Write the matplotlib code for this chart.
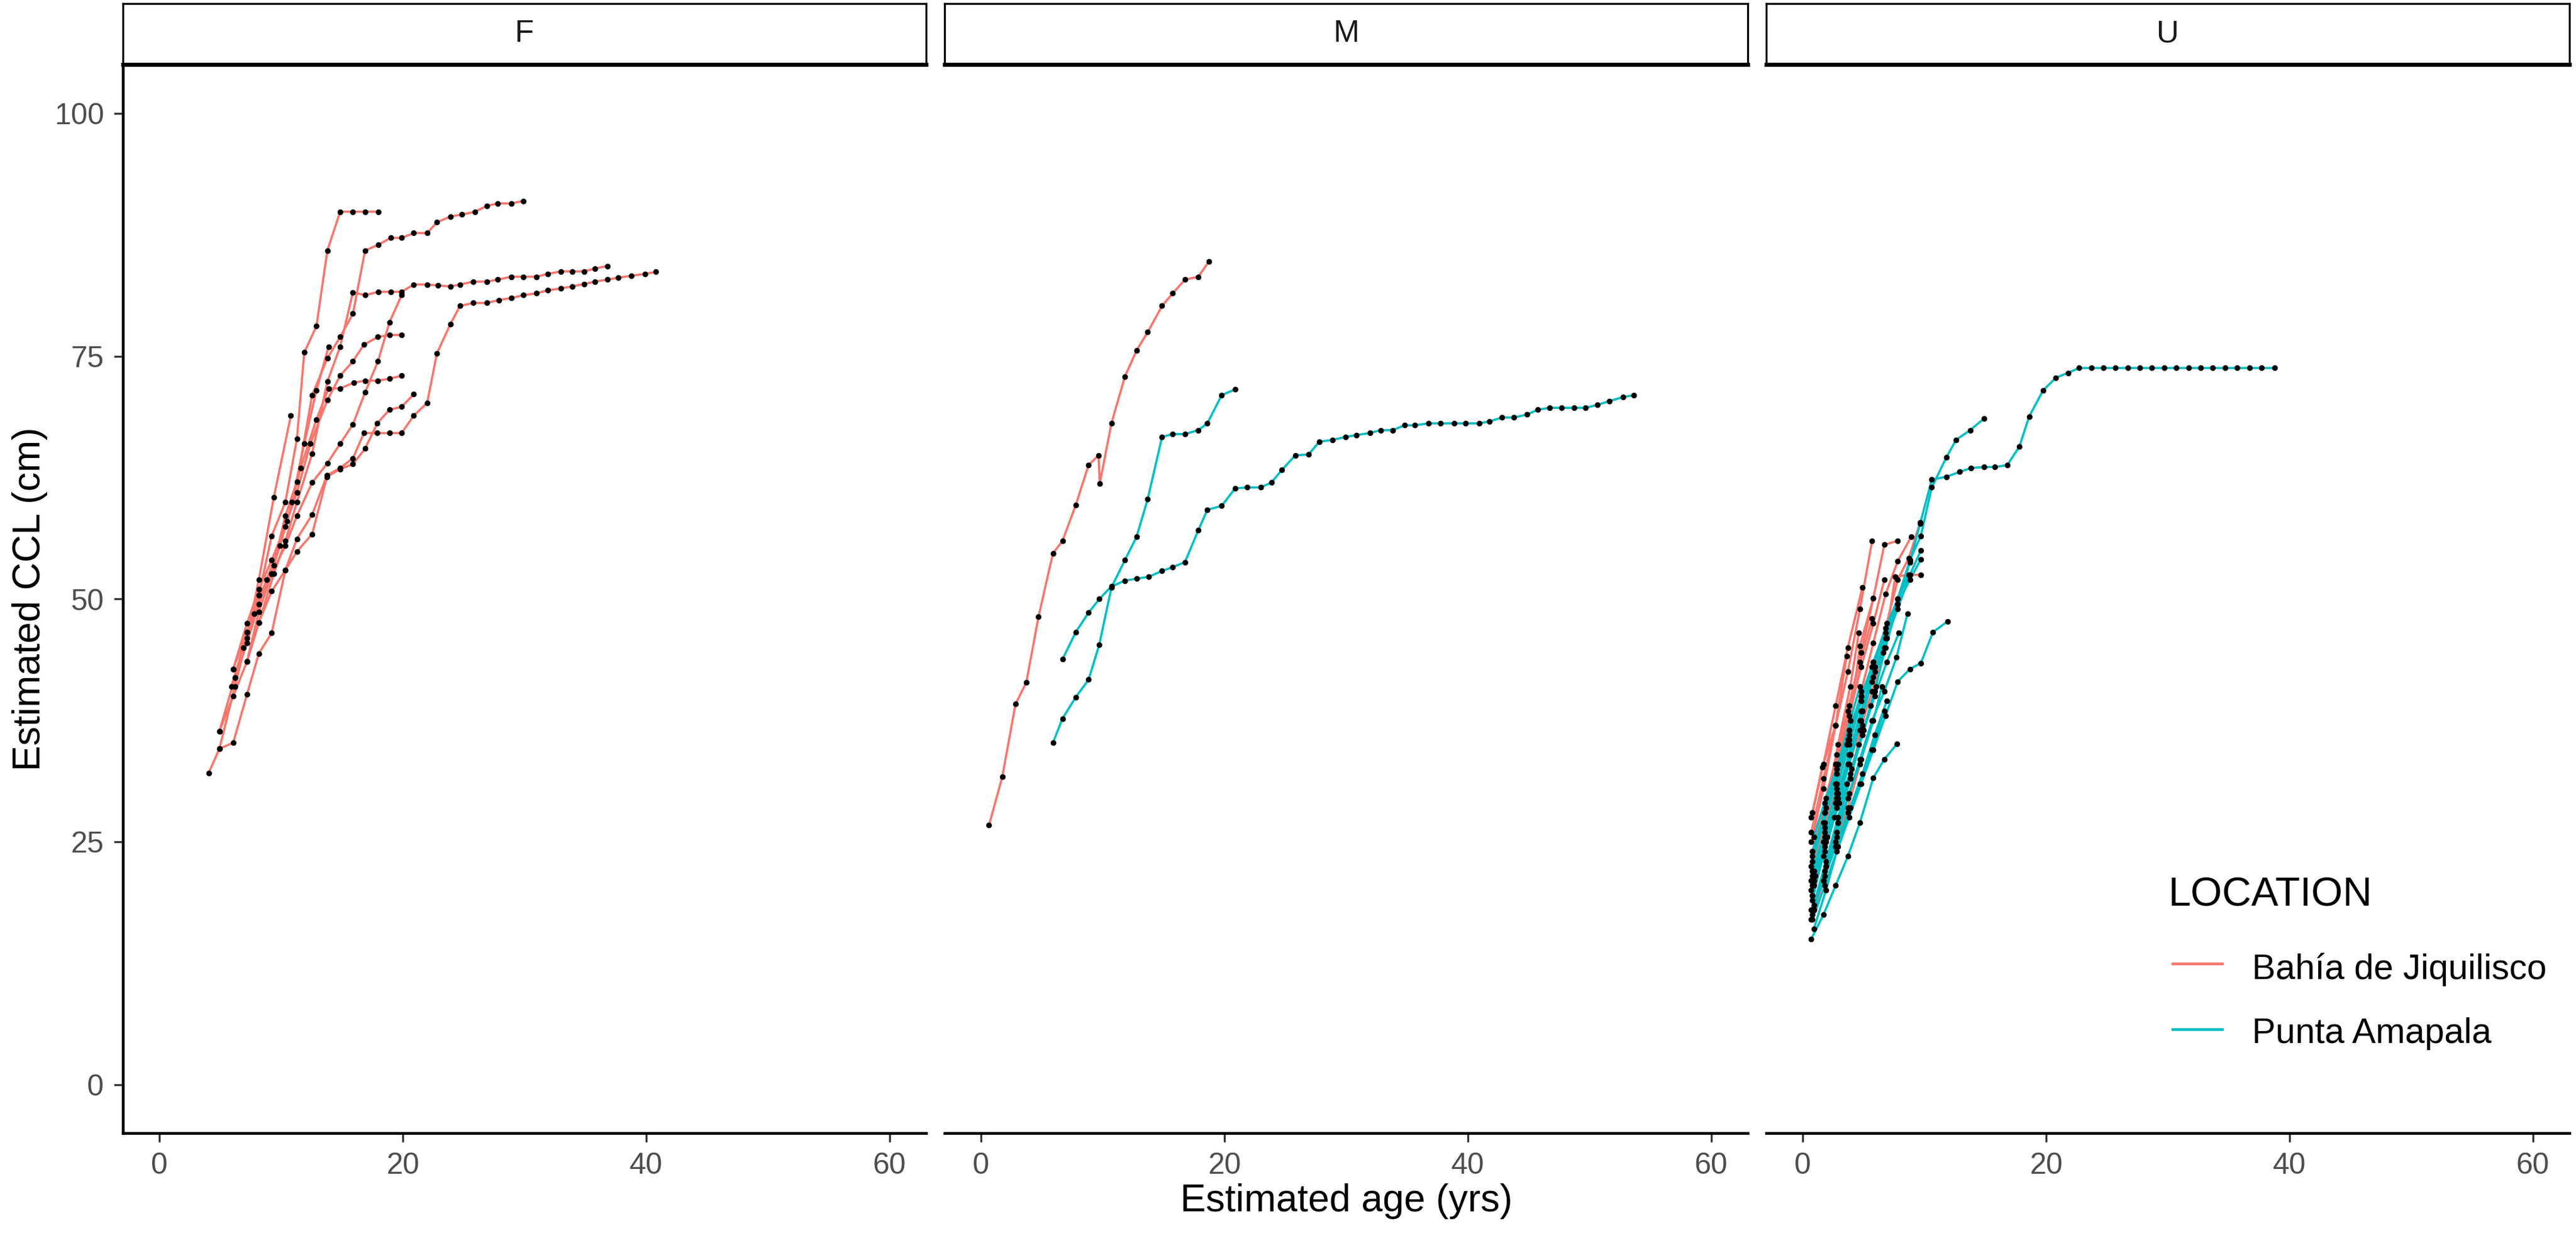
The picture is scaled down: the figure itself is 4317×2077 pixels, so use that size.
import matplotlib
matplotlib.use("Agg")
import matplotlib.pyplot as plt
from matplotlib.lines import Line2D

plt.rcParams['font.family'] = ['Liberation Sans', 'DejaVu Sans']

# ---------------- data ----------------
panels = ["F", "M", "U"]
locations = ["Bahía de Jiquilisco", "Punta Amapala"]
loc_colors = ["#F8766D", "#00BFC4"]
x_ticks = [0, 20, 40, 60]
y_ticks = [0, 25, 50, 75, 100]
x_label = "Estimated age (yrs)"
y_label = "Estimated CCL (cm)"
legend_title = "LOCATION"

# Panel F, Bahía de Jiquilisco (one list per turtle)
F_BJ_age = [
    [6.06, 7.2, 8.17, 9.22, 10.35, 11.3, 11.9, 12.9, 13.8, 14.85, 15.9, 16.9, 18.0],
    [6.2, 7.2, 8.17, 9.22, 10.35, 11.3, 12.55, 13.8, 14.85, 15.9, 16.9, 18.0, 19.0, 19.9, 20.9, 22.0, 22.8, 23.9, 24.85, 25.95, 26.9, 27.8, 28.9, 29.9],
    [4.93, 6.06, 7.2, 8.17, 9.4, 10.35, 11.3, 12.55, 13.8, 14.85, 15.9, 16.9, 18.0, 19.0, 19.9, 20.9, 22.0, 22.9, 23.9, 24.7, 25.8, 26.9, 27.8, 28.9, 29.9, 31.0, 31.9, 33.0, 33.9, 34.9, 35.8, 36.8],
    [4.05, 4.93, 6.06, 7.2, 8.17, 9.22, 10.35, 11.3, 12.55, 13.77, 14.85, 15.9, 16.8, 17.9, 18.9, 19.9, 20.9, 22.0, 22.8, 23.9, 24.7, 25.8, 26.9, 27.9, 28.9, 29.9, 31.0, 31.9, 33.0, 33.9, 34.9, 35.8, 36.8, 37.7, 38.8, 39.9, 40.8],
    [6.06, 7.2, 8.17, 9.22, 10.35, 11.3, 12.4, 13.8, 14.85, 15.9, 16.8, 17.96, 18.9, 19.9],
    [4.93, 6.2, 7.2, 8.17, 9.4, 10.5, 11.6, 12.9, 13.9, 14.85, 16.0, 16.9, 17.96, 18.9, 19.9],
    [7.2, 8.17, 9.22, 10.35, 11.3, 12.55, 13.77, 14.85, 15.9, 16.9, 17.9, 18.9, 19.9, 20.9],
    [4.93, 6.2, 7.2, 8.17, 9.4, 10.8],
    [7.2, 8.17, 9.22, 10.35, 11.3, 12.55, 13.8, 14.85, 15.9, 16.9, 17.96, 18.9, 19.9],
    [5.9, 6.9, 7.8, 8.8, 9.9, 10.9, 11.9, 12.9, 13.9],
]
F_BJ_ccl = [
    [42.8, 46.6, 50.4, 56.5, 60.0, 66.5, 75.4, 78.1, 85.9, 89.9, 89.9, 89.9, 89.9],
    [41.9, 46.6, 50.4, 52.6, 58.6, 62.1, 71.0, 74.8, 77.0, 79.4, 85.9, 86.5, 87.2, 87.2, 87.7, 87.7, 88.8, 89.4, 89.6, 89.9, 90.5, 90.75, 90.75, 91.0],
    [36.4, 40.0, 43.6, 47.6, 52.6, 56.0, 60.0, 65.0, 72.4, 76.0, 81.6, 81.3, 81.65, 81.65, 81.65, 82.4, 82.4, 82.3, 82.2, 82.4, 82.7, 82.7, 82.9, 83.2, 83.2, 83.2, 83.5, 83.75, 83.75, 83.75, 84.05, 84.3],
    [32.1, 34.6, 35.2, 40.2, 44.4, 46.5, 53.0, 56.2, 58.7, 62.75, 63.5, 64.5, 67.1, 67.1, 67.1, 67.1, 68.9, 70.2, 75.3, 78.3, 80.2, 80.5, 80.5, 80.8, 81.0, 81.3, 81.5, 81.8, 82.0, 82.2, 82.45, 82.7, 82.9, 83.1, 83.3, 83.5, 83.7],
    [42.8, 47.5, 51.0, 54.0, 57.5, 61.0, 66.0, 70.5, 73.0, 74.5, 76.2, 77.0, 77.2, 77.2],
    [36.4, 41.9, 45.5, 49.5, 53.5, 58.0, 63.5, 68.5, 71.7, 71.7, 72.3, 72.5, 72.5, 72.7, 73.0],
    [43.6, 47.6, 50.8, 53.0, 54.9, 56.7, 62.6, 63.4, 63.9, 65.5, 68.1, 69.5, 69.8, 71.1],
    [34.6, 41.0, 46.0, 52.0, 60.5, 68.9],
    [43.6, 48.7, 52.6, 55.5, 58.6, 62.0, 64.0, 66.0, 68.0, 71.3, 74.5, 78.5, 81.3],
    [41.0, 45.0, 48.5, 52.0, 55.5, 60.0, 66.0, 71.5, 76.0],
]
F_PA_age = []
F_PA_ccl = []

# Panel M
M_BJ_age = [
    [0.65, 1.74, 2.83, 3.71, 4.72, 5.90, 6.69, 7.78, 8.83, 9.65, 9.75, 10.71, 11.81, 12.77, 13.69, 14.87, 15.75, 16.75, 17.85, 18.73],
]
M_BJ_ccl = [
    [26.7, 31.7, 39.2, 41.4, 48.2, 54.7, 56.0, 59.7, 63.8, 64.8, 61.9, 68.1, 72.9, 75.6, 77.5, 80.2, 81.5, 82.9, 83.2, 84.8],
]
M_PA_age = [
    [6.69, 7.78, 8.83, 9.71, 10.71, 11.81, 12.77, 13.78, 14.87, 15.75, 16.75, 17.85, 18.59, 19.77, 20.87, 21.88, 22.97, 23.85, 24.72, 25.81, 26.91, 27.79, 28.88, 29.97, 30.85, 31.94, 32.82, 33.83, 34.79, 35.66, 36.76, 37.76, 38.86, 39.82, 40.92, 41.79, 42.80, 43.76, 44.86, 45.73, 46.70, 47.70, 48.71, 49.67, 50.64, 51.64, 52.74, 53.61],
    [5.90, 6.69, 7.78, 8.83, 9.71, 10.71, 11.81, 12.77, 13.69, 14.87, 15.75, 16.75, 17.85, 18.59, 19.77, 20.87],
]
M_PA_ccl = [
    [43.8, 46.6, 48.6, 50.0, 51.3, 51.9, 52.1, 52.3, 52.9, 53.3, 53.8, 57.1, 59.2, 59.6, 61.4, 61.5, 61.5, 62.0, 63.3, 64.8, 64.9, 66.2, 66.4, 66.7, 66.9, 67.1, 67.4, 67.4, 67.9, 67.9, 68.1, 68.1, 68.1, 68.1, 68.1, 68.3, 68.7, 68.7, 69.0, 69.5, 69.7, 69.7, 69.7, 69.7, 70.0, 70.4, 70.8, 71.0],
    [35.2, 37.7, 39.9, 41.7, 45.3, 51.2, 54.0, 56.4, 60.3, 66.7, 67.0, 67.0, 67.4, 68.1, 71.0, 71.6],
]

# Panel U
U_BJ_age = [
    [0.7, 1.7, 2.7, 3.7, 4.7, 5.7],
    [0.8, 1.8, 2.8, 3.8, 4.8, 5.8, 6.7, 7.8],
    [0.8, 1.8, 2.8, 3.8, 4.8, 5.8, 6.8, 7.8, 8.9],
    [0.9, 1.9, 2.9, 3.9, 4.9, 5.9, 6.9, 7.8, 8.7, 9.65],
    [0.8, 1.8, 2.8, 3.8, 4.7, 5.7, 6.7, 7.6, 8.7, 9.7],
    [0.7, 1.7, 2.7, 3.7, 4.9],
    [0.8, 1.8, 2.8, 3.8, 4.8, 5.8, 6.7],
    [0.9, 1.9, 2.9, 3.9, 4.6],
    [0.8, 1.8, 2.8, 3.6, 4.7, 5.8],
    [0.7, 1.7, 2.7, 3.6],
    [0.8, 1.8, 2.7, 3.7, 4.7, 5.7],
    [0.9, 1.9, 2.9, 3.9, 4.9, 5.7],
    [0.8, 1.6, 2.7],
    [0.7, 1.7, 2.7, 3.7, 4.7],
]
U_BJ_ccl = [
    [26.0, 31.5, 37.0, 42.5, 49.0, 56.0],
    [24.0, 29.0, 34.0, 39.0, 44.5, 50.1, 55.6, 56.0],
    [22.0, 26.5, 31.0, 35.5, 40.5, 45.5, 50.5, 53.9, 56.4],
    [20.5, 25.0, 29.5, 34.0, 38.5, 43.0, 47.5, 52.0, 54.2, 57.9],
    [21.5, 25.5, 29.5, 33.0, 36.5, 40.5, 45.0, 52.3, 52.5, 52.5],
    [27.5, 33.0, 39.0, 45.0, 51.2],
    [23.0, 28.0, 33.0, 38.0, 43.0, 47.5, 52.0],
    [22.0, 28.5, 35.0, 41.0, 46.5],
    [19.5, 24.5, 30.0, 35.0, 45.2, 50.1],
    [25.0, 30.5, 37.0, 44.1],
    [21.0, 27.0, 33.0, 38.5, 43.5, 48.0],
    [18.0, 22.5, 27.0, 31.5, 37.0, 43.0],
    [28.0, 32.7, 37.0],
    [17.0, 21.0, 25.0, 28.5, 33.0],
]
U_PA_age = [
    [0.9, 1.9, 2.9, 3.9, 4.9, 5.9, 6.8, 7.8, 8.8, 9.65, 10.6, 11.8, 12.9, 13.8, 14.9, 15.8, 16.8, 17.8, 18.6, 19.75, 20.8, 21.8, 22.7, 23.7, 24.7, 25.7, 26.7, 27.7, 28.7, 29.7, 30.7, 31.7, 32.7, 33.7, 34.7, 35.7, 36.7, 37.7, 38.8],
    [0.8, 1.8, 2.8, 3.8, 4.8, 5.8, 6.8, 7.8, 8.8, 9.7, 10.6, 11.8, 12.6, 13.75, 14.9],
    [0.8, 1.8, 2.8, 3.8, 4.8, 5.8, 6.8, 7.8, 8.8, 9.7, 10.7, 11.9],
    [0.7, 1.7, 2.7, 3.7, 4.7, 5.8, 6.7, 7.75],
    [0.8, 1.8, 2.8, 3.8, 4.8, 5.8, 6.8, 7.8, 8.8, 9.7],
    [0.8, 1.8, 2.8, 3.8, 4.8, 5.8, 6.8, 7.8, 8.7],
    [0.9, 1.9, 2.9, 3.9, 4.9, 5.9, 6.9, 7.9],
    [0.7, 1.7, 2.7, 3.7, 4.7, 5.7, 6.6],
    [0.8, 1.8, 2.8, 3.8, 4.8, 5.8],
    [0.8, 1.8, 2.8, 3.8, 4.8],
    [0.9, 1.9, 2.9, 3.9, 4.9, 5.9, 6.9],
    [0.7, 1.7, 2.7, 3.7],
    [0.8, 1.8, 2.8, 3.8, 4.8, 5.8, 6.5],
    [0.9, 1.9, 2.9, 3.9, 4.7],
    [0.7, 1.7, 2.6, 3.6, 4.6, 5.6],
    [0.8, 1.8, 2.8, 3.7, 4.7, 5.7, 6.7, 7.7, 8.6],
    [1.0, 2.0, 3.0, 4.0, 5.0, 6.0],
    [0.8, 1.8, 2.8, 3.8, 4.8],
    [0.7, 1.7, 2.7, 3.7, 4.7, 5.7, 6.7],
    [0.9, 1.9, 2.9, 3.9, 4.9, 5.9, 6.9, 7.8, 8.8, 9.7],
]
U_PA_ccl = [
    [18.0, 22.5, 27.0, 31.5, 36.0, 40.5, 45.0, 49.5, 53.8, 57.8, 62.3, 62.6, 63.1, 63.5, 63.6, 63.6, 63.8, 65.7, 68.8, 71.5, 72.8, 73.3, 73.8, 73.8, 73.8, 73.8, 73.8, 73.8, 73.8, 73.8, 73.8, 73.8, 73.8, 73.8, 73.8, 73.8, 73.8, 73.8, 73.8],
    [19.5, 24.0, 28.5, 33.0, 37.5, 42.0, 46.0, 50.0, 54.0, 56.5, 61.5, 64.6, 66.4, 67.4, 68.6],
    [17.0, 20.5, 24.0, 27.5, 31.0, 34.5, 38.0, 41.5, 42.8, 43.4, 46.6, 47.7],
    [15.0, 17.5, 20.5, 23.5, 27.0, 31.6, 33.5, 35.1],
    [20.5, 25.0, 29.5, 34.0, 38.5, 43.0, 46.5, 49.5, 52.0, 54.1],
    [22.0, 26.0, 30.5, 35.0, 39.5, 43.5, 47.0, 50.0, 52.5],
    [18.5, 23.0, 27.5, 32.0, 36.0, 40.0, 43.5, 46.5],
    [21.0, 25.0, 29.0, 33.0, 37.5, 41.5, 44.5],
    [24.0, 28.0, 32.0, 36.0, 40.0, 43.5],
    [19.0, 24.5, 29.5, 34.0, 38.5],
    [16.0, 20.0, 24.5, 28.5, 32.0, 36.0, 39.5],
    [22.5, 27.0, 31.0, 35.5],
    [17.5, 22.0, 26.0, 30.0, 33.5, 37.5, 41.0],
    [25.5, 29.5, 33.0, 37.5, 41.0],
    [20.0, 23.5, 27.5, 31.0, 35.0, 39.0],
    [18.0, 21.5, 25.5, 29.5, 33.5, 37.5, 40.5, 44.0, 48.5],
    [21.5, 25.5, 29.0, 32.5, 36.5, 41.0],
    [23.5, 28.0, 32.5, 36.5, 40.0],
    [18.0, 21.0, 24.5, 28.0, 31.0, 34.5, 38.5],
    [21.0, 25.5, 30.0, 34.0, 38.5, 42.5, 46.0, 49.0, 52.5, 55.0],
]

panel_data = {
    "F": [(F_BJ_age, F_BJ_ccl), (F_PA_age, F_PA_ccl)],
    "M": [(M_BJ_age, M_BJ_ccl), (M_PA_age, M_PA_ccl)],
    "U": [(U_BJ_age, U_BJ_ccl), (U_PA_age, U_PA_ccl)],
}

# ---------------- layout (pixels) ----------------
W, H = 4317, 2077
DPI = 300
fig = plt.figure(figsize=(W / DPI, H / DPI), dpi=DPI)
fig.patch.set_facecolor("white")

panel_left = [206, 1583, 2960]
panel_w = 1346
panel_top = 109
panel_bottom = 1898
strip_top = 6
strip_bottom = 108

def fx(px):
    return px / W

def fy(py):
    return 1 - py / H

TICK_COLOR = "#333333"
TICKLABEL_COLOR = "#4D4D4D"

for i, p in enumerate(panels):
    ax = fig.add_axes([fx(panel_left[i]), fy(panel_bottom), panel_w / W, (panel_bottom - panel_top) / H])
    ax.set_xlim(-3, 63)
    ax.set_ylim(-5, 105)
    for side in ["top", "right"]:
        ax.spines[side].set_visible(False)
    ax.spines["bottom"].set_linewidth(1.1)
    ax.spines["left"].set_linewidth(1.1)
    ax.set_xticks(x_ticks)
    ax.set_xticklabels([str(t) for t in x_ticks])
    ax.tick_params(axis="x", length=3.6, width=0.8, color=TICK_COLOR, labelsize=12,
                   labelcolor=TICKLABEL_COLOR, pad=4)
    if i == 0:
        ax.set_yticks(y_ticks)
        ax.set_yticklabels([str(t) for t in y_ticks])
        ax.tick_params(axis="y", length=3.6, width=0.8, color=TICK_COLOR, labelsize=12,
                       labelcolor=TICKLABEL_COLOR, pad=4)
    else:
        ax.spines["left"].set_visible(False)
        ax.set_yticks([])

    groups = panel_data[p]
    # lines
    for (ages_list, ccl_list), col in zip(groups, loc_colors):
        for a, c in zip(ages_list, ccl_list):
            ax.plot(a, c, color=col, lw=0.9, zorder=2, solid_capstyle="butt")
    # points
    for (ages_list, ccl_list), col in zip(groups, loc_colors):
        for a, c in zip(ages_list, ccl_list):
            ax.plot(a, c, linestyle="none", marker="o", markersize=2.3,
                    markerfacecolor="black", markeredgecolor="black", markeredgewidth=0,
                    zorder=3)

    # strip
    sax = fig.add_axes([fx(panel_left[i]), fy(strip_bottom), panel_w / W, (strip_bottom - strip_top) / H])
    sax.set_xticks([])
    sax.set_yticks([])
    sax.set_facecolor("white")
    for side in ["top", "left", "right"]:
        sax.spines[side].set_linewidth(0.8)
        sax.spines[side].set_color("black")
    sax.spines["bottom"].set_linewidth(1.6)
    sax.spines["bottom"].set_color("black")
    sax.text(0.5, 0.5, p, ha="center", va="center", fontsize=12.5, color="#1A1A1A",
             transform=sax.transAxes)

# axis titles
fig.text(fx(2256), fy(2012), x_label, ha="center", va="center", fontsize=15.4, color="black")
fig.text(fx(50), fy((panel_top + panel_bottom) / 2), y_label, ha="center", va="center",
         rotation=90, fontsize=15.4, color="black")

# legend (inside the U panel, bottom right)
fig.text(fx(3633), fy(1517), legend_title, ha="left", va="baseline", fontsize=16.3, color="black")
key_y = [1614, 1724]
label_base = [1640, 1747]
for loc, col, ky, lb in zip(locations, loc_colors, key_y, label_base):
    fig.add_artist(Line2D([fx(3641), fx(3724)], [fy(ky), fy(ky)], color=col, lw=1.1,
                          transform=fig.transFigure))
    fig.text(fx(3774), fy(lb), loc, ha="left", va="baseline", fontsize=14.2, color="black")

fig.savefig("out.png", dpi=DPI, facecolor="white")
